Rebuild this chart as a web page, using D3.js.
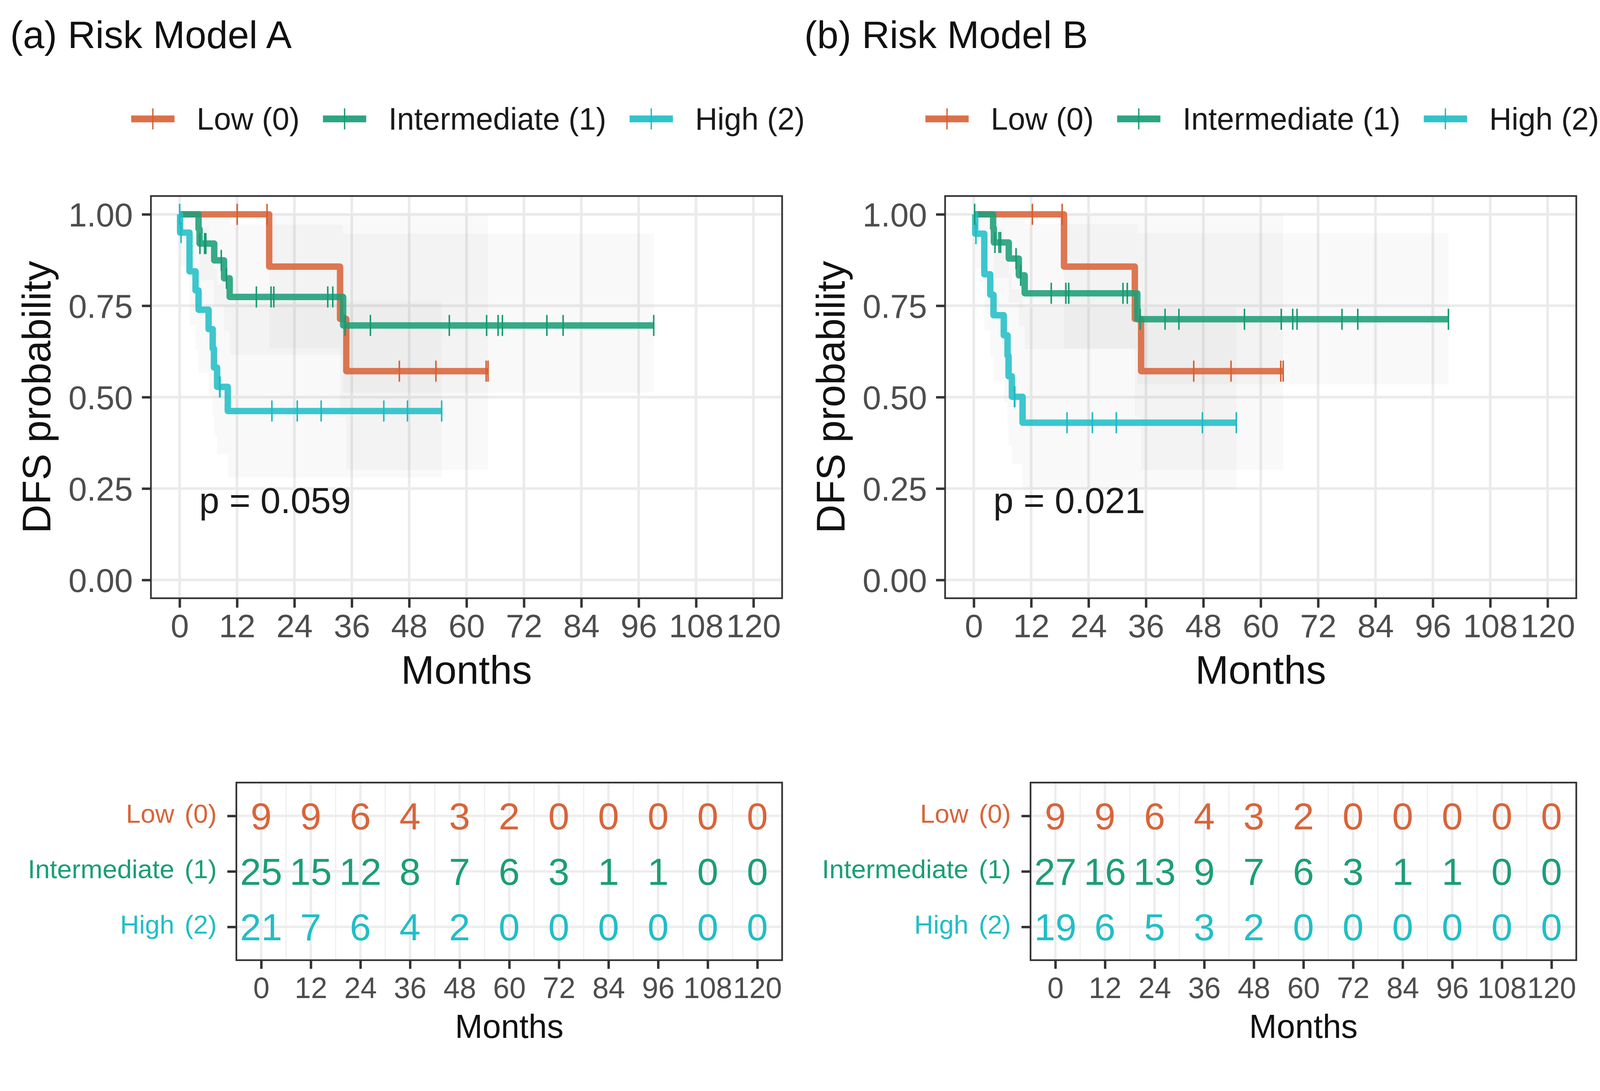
<!DOCTYPE html>
<html>
<head>
<meta charset="utf-8">
<script src="https://cdn.jsdelivr.net/npm/d3@7"></script>
<style>
html, body { margin: 0; padding: 0; background: #fff; overflow: hidden; }
#chart { display: block; width: 100vw; height: 100vh; }
svg text { font-family: "Liberation Sans", Arial, sans-serif; }
</style>
</head>
<body>
<svg id="chart" viewBox="0 0 4251 2794" preserveAspectRatio="xMidYMin meet"></svg>
<script>
"use strict";

//
// data
//

var strata = ["Low (0)", "Intermediate (1)", "High (2)"];
var time_ticks = [0, 12, 24, 36, 48, 60, 72, 84, 96, 108, 120];
var surv_ticks = [0, 0.25, 0.5, 0.75, 1];
var titles = ["(a) Risk Model A", "(b) Risk Model B"];
var pvalues = ["p = 0.059", "p = 0.021"];

// (a) Risk Model A
var a_low_time = [0, 18.73, 33.55, 34.86];
var a_low_surv = [1, 0.857, 0.714, 0.571];
var a_low_lower = [1, 0.634, 0.447, 0.301];
var a_low_upper = [1, 1, 1, 1];
var a_low_censor = [12.04, 18.28, 45.95, 53.6, 64.1, 64.5];
var a_low_end = 64.5;

var a_int_time = [0, 3.96, 4.17, 7.24, 9.29, 10.47, 34.2];
var a_int_surv = [1, 0.96, 0.92, 0.874, 0.825, 0.774, 0.696];
var a_int_lower = [1, 0.886, 0.820, 0.750, 0.683, 0.616, 0.512];
var a_int_upper = [1, 1, 1, 1, 0.998, 0.972, 0.947];
var a_int_censor = [4.25, 5.22, 5.48, 8.71, 9.8, 16.05, 19.12, 19.7, 30.98, 32.03,
    34.6, 39.9, 56.4, 64.2, 66.6, 67.5, 76.8, 80.2, 99.15];
var a_int_end = 99.15;

var a_high_time = [0, 0.1, 2.07, 3.33, 3.96, 6.06, 6.92, 7.18, 7.84, 10.07];
var a_high_surv = [1, 0.95, 0.844, 0.792, 0.739, 0.686, 0.633, 0.581, 0.528, 0.462];
var a_high_lower = [1, 0.859, 0.697, 0.629, 0.566, 0.506, 0.450, 0.396, 0.345, 0.280];
var a_high_upper = [1, 1, 1, 0.996, 0.965, 0.930, 0.891, 0.851, 0.808, 0.761];
var a_high_censor = [0, 0.3, 8.37, 8.45, 19.3, 24.6, 29.6, 42.7, 47.65, 54.8];
var a_high_end = 54.8;

var a_risk_low = [9, 9, 6, 4, 3, 2, 0, 0, 0, 0, 0];
var a_risk_int = [25, 15, 12, 8, 7, 6, 3, 1, 1, 0, 0];
var a_risk_high = [21, 7, 6, 4, 2, 0, 0, 0, 0, 0, 0];

// (b) Risk Model B
var b_low_time = [0, 18.86, 33.68, 34.99];
var b_low_surv = [1, 0.857, 0.714, 0.571];
var b_low_lower = [1, 0.634, 0.447, 0.301];
var b_low_upper = [1, 1, 1, 1];
var b_low_censor = [12.25, 18.47, 46.0, 53.8, 64.2, 64.7];
var b_low_end = 64.7;

var b_int_time = [0, 4.04, 4.2, 7.32, 9.42, 10.65, 34.2];
var b_int_surv = [1, 0.962, 0.923, 0.879, 0.833, 0.784, 0.713];
var b_int_lower = [1, 0.890, 0.826, 0.759, 0.695, 0.631, 0.535];
var b_int_upper = [1, 1, 1, 1, 0.998, 0.973, 0.948];
var b_int_censor = [0.18, 4.43, 5.27, 5.61, 8.84, 9.8, 16.2, 19.25, 19.86, 31.2, 32.1,
    34.8, 40.0, 42.9, 56.6, 64.3, 66.7, 67.6, 77.0, 80.3, 99.26];
var b_int_end = 99.26;

var b_high_time = [0, 0.3, 2.2, 3.44, 4.12, 6.27, 7.06, 7.27, 7.97, 10.2];
var b_high_surv = [1, 0.947, 0.836, 0.780, 0.724, 0.669, 0.613, 0.557, 0.501, 0.430];
var b_high_lower = [1, 0.852, 0.682, 0.611, 0.545, 0.484, 0.425, 0.369, 0.316, 0.248];
var b_high_upper = [1, 1, 1, 0.996, 0.962, 0.926, 0.885, 0.841, 0.794, 0.746];
var b_high_censor = [0.45, 8.5, 8.58, 19.5, 24.8, 29.8, 47.8, 54.9];
var b_high_end = 54.9;

var b_risk_low = [9, 9, 6, 4, 3, 2, 0, 0, 0, 0, 0];
var b_risk_int = [27, 16, 13, 9, 7, 6, 3, 1, 1, 0, 0];
var b_risk_high = [19, 6, 5, 3, 2, 0, 0, 0, 0, 0, 0];


function make_curve(time, surv, lower, upper, censor, end) {
    return {time: time, surv: surv, lower: lower, upper: upper, censor: censor, end: end};
}

var panels = [
    {
        title: titles[0], pval: pvalues[0], id: "a",
        curves: [
            make_curve(a_low_time, a_low_surv, a_low_lower, a_low_upper, a_low_censor, a_low_end),
            make_curve(a_int_time, a_int_surv, a_int_lower, a_int_upper, a_int_censor, a_int_end),
            make_curve(a_high_time, a_high_surv, a_high_lower, a_high_upper, a_high_censor, a_high_end)
        ],
        risk: [a_risk_low, a_risk_int, a_risk_high]
    },
    {
        title: titles[1], pval: pvalues[1], id: "b",
        curves: [
            make_curve(b_low_time, b_low_surv, b_low_lower, b_low_upper, b_low_censor, b_low_end),
            make_curve(b_int_time, b_int_surv, b_int_lower, b_int_upper, b_int_censor, b_int_end),
            make_curve(b_high_time, b_high_surv, b_high_lower, b_high_upper, b_high_censor, b_high_end)
        ],
        risk: [b_risk_low, b_risk_int, b_risk_high]
    }
];

//
// styles and layout
//

var colors = ["#D9643A", "#1B9E77", "#21BEC6"];
var mark_colors = ["#D55F30", "#17996F", "#1DBAC2"];
var grid_color = "#EBEBEB";
var dark = "#333333";
var tick_text = "#4D4D4D";
var panel_dx = 2110;

var plot_box = {left: 401, right: 2078, top: 521, bottom: 1590};
var table_box = {left: 628, right: 2078, top: 2080, bottom: 2552};

var svg = d3.select("#chart");


function draw_legend(g, cx, cy) {
    var key_w = 115, key_gap = 59, item_gap = 62;
    var items = g.append("g");
    var widths = [];
    var groups = [];
    strata.forEach(function (name, i) {
        var it = items.append("g");
        it.append("line")
            .attr("x1", 0).attr("x2", key_w)
            .attr("y1", cy).attr("y2", cy)
            .attr("stroke", colors[i])
            .attr("stroke-width", 18)
            .attr("opacity", 0.92);
        it.append("line")
            .attr("x1", key_w / 2).attr("x2", key_w / 2)
            .attr("y1", cy - 28).attr("y2", cy + 28)
            .attr("stroke", mark_colors[i])
            .attr("stroke-width", 3.5);
        var t = it.append("text")
            .attr("x", key_w + key_gap)
            .attr("y", cy + 29)
            .attr("font-size", 82)
            .attr("fill", "#1a1a1a")
            .text(name);
        widths.push(key_w + key_gap + t.node().getComputedTextLength());
        groups.push(it);
    });
    var total = d3.sum(widths) + item_gap * (widths.length - 1);
    var x0 = cx - total / 2;
    groups.forEach(function (it, i) {
        it.attr("transform", "translate(" + x0 + ",0)");
        x0 += widths[i] + item_gap;
    });
}


function step_points(c) {
    var pts = c.time.map(function (t, i) {
        return {t: t, s: c.surv[i], lo: c.lower[i], hi: c.upper[i]};
    });
    var last = pts[pts.length - 1];
    pts.push({t: c.end, s: last.s, lo: last.lo, hi: last.hi});
    return pts;
}


function surv_at(c, t) {
    var i = d3.bisectRight(c.time, t) - 1;
    return c.surv[Math.max(i, 0)];
}


function draw_panel(panel, dx) {
    var g = svg.append("g").attr("transform", "translate(" + dx + ",0)");

    // title
    g.append("text")
        .attr("x", 27)
        .attr("y", 128)
        .attr("font-size", 102)
        .attr("fill", "#111")
        .text(panel.title);

    draw_legend(g, (plot_box.left + plot_box.right) / 2 + 4, 316);

    //
    // survival curves
    //

    var x = d3.scaleLinear().domain([-6, 126]).range([plot_box.left, plot_box.right]);
    var y = d3.scaleLinear().domain([-0.05, 1.05]).range([plot_box.bottom, plot_box.top]);

    var clip_id = "clip-" + panel.id;
    g.append("clipPath").attr("id", clip_id)
        .append("rect")
        .attr("x", plot_box.left).attr("y", plot_box.top)
        .attr("width", plot_box.right - plot_box.left)
        .attr("height", plot_box.bottom - plot_box.top);

    var plot = g.append("g").attr("clip-path", "url(#" + clip_id + ")");

    // grid
    plot.selectAll("line.vgrid")
        .data(time_ticks)
        .enter().append("line")
        .attr("x1", function (d) { return x(d); })
        .attr("x2", function (d) { return x(d); })
        .attr("y1", plot_box.top).attr("y2", plot_box.bottom)
        .attr("stroke", grid_color).attr("stroke-width", 7);
    plot.selectAll("line.hgrid")
        .data(surv_ticks)
        .enter().append("line")
        .attr("x1", plot_box.left).attr("x2", plot_box.right)
        .attr("y1", function (d) { return y(d); })
        .attr("y2", function (d) { return y(d); })
        .attr("stroke", grid_color).attr("stroke-width", 7);

    // confidence bands
    var band = d3.area()
        .curve(d3.curveStepAfter)
        .x(function (d) { return x(d.t); })
        .y0(function (d) { return y(d.lo); })
        .y1(function (d) { return y(d.hi); });
    plot.selectAll("path.band")
        .data(panel.curves)
        .enter().append("path")
        .attr("d", function (c) { return band(step_points(c)); })
        .attr("fill", "#999999")
        .attr("fill-opacity", 0.06);

    // steps
    var step = d3.line()
        .curve(d3.curveStepAfter)
        .x(function (d) { return x(d.t); })
        .y(function (d) { return y(d.s); });
    plot.selectAll("path.km")
        .data(panel.curves)
        .enter().append("path")
        .attr("d", function (c) { return step(step_points(c)); })
        .attr("fill", "none")
        .attr("stroke", function (c, i) { return colors[i]; })
        .attr("stroke-width", 17)
        .attr("stroke-linejoin", "round")
        .attr("opacity", 0.88);

    // censor marks
    var half = 28;
    panel.curves.forEach(function (c, i) {
        var marks = plot.append("g")
            .attr("stroke", mark_colors[i])
            .attr("stroke-width", 4);
        marks.selectAll("line")
            .data(c.censor)
            .enter().append("line")
            .attr("x1", function (t) { return x(t); })
            .attr("x2", function (t) { return x(t); })
            .attr("y1", function (t) { return y(surv_at(c, t)) - half; })
            .attr("y2", function (t) { return y(surv_at(c, t)) + half; });
    });

    // p value
    g.append("text")
        .attr("x", x(4.1))
        .attr("y", y(0.2) + 17)
        .attr("font-size", 96)
        .attr("fill", "#1a1a1a")
        .text(panel.pval);

    // border
    g.append("rect")
        .attr("x", plot_box.left).attr("y", plot_box.top)
        .attr("width", plot_box.right - plot_box.left)
        .attr("height", plot_box.bottom - plot_box.top)
        .attr("fill", "none").attr("stroke", dark).attr("stroke-width", 4.5);

    // axes
    var xaxis = g.append("g")
        .attr("transform", "translate(0," + plot_box.bottom + ")")
        .call(d3.axisBottom(x).tickValues(time_ticks).tickSize(25).tickPadding(17));
    var yaxis = g.append("g")
        .attr("transform", "translate(" + plot_box.left + ",0)")
        .call(d3.axisLeft(y).tickValues(surv_ticks).tickSize(24).tickPadding(24)
            .tickFormat(d3.format(".2f")));
    [xaxis, yaxis].forEach(function (ax) {
        ax.select(".domain").remove();
        ax.selectAll(".tick line").attr("stroke", dark).attr("stroke-width", 6.5);
        ax.selectAll(".tick text")
            .attr("fill", tick_text)
            .attr("font-family", "Liberation Sans, Arial, sans-serif");
    });
    xaxis.selectAll(".tick text").attr("font-size", 87);
    yaxis.selectAll(".tick text").attr("font-size", 88).attr("dy", "0.36em");

    g.append("text")
        .attr("x", (plot_box.left + plot_box.right) / 2)
        .attr("y", 1817)
        .attr("text-anchor", "middle")
        .attr("font-size", 106)
        .attr("fill", "#111")
        .text("Months");

    g.append("text")
        .attr("transform", "translate(134," + (plot_box.top + plot_box.bottom) / 2 + ") rotate(-90)")
        .attr("text-anchor", "middle")
        .attr("font-size", 106)
        .attr("fill", "#111")
        .text("DFS probability");

    //
    // number at risk table
    //

    var tx = d3.scaleLinear().domain([-6, 126]).range([table_box.left, table_box.right]);
    var ty = d3.scalePoint().domain(strata).range([table_box.top, table_box.bottom]).padding(0.6);

    var table = g.append("g");
    var minor = time_ticks.slice(1).map(function (d, i) { return (d + time_ticks[i]) / 2; });

    table.selectAll("line.minor")
        .data(minor)
        .enter().append("line")
        .attr("x1", function (d) { return tx(d); })
        .attr("x2", function (d) { return tx(d); })
        .attr("y1", table_box.top).attr("y2", table_box.bottom)
        .attr("stroke", "#F0F0F0").attr("stroke-width", 3.3);
    table.selectAll("line.major")
        .data(time_ticks)
        .enter().append("line")
        .attr("x1", function (d) { return tx(d); })
        .attr("x2", function (d) { return tx(d); })
        .attr("y1", table_box.top).attr("y2", table_box.bottom)
        .attr("stroke", "#EDEDED").attr("stroke-width", 6.5);
    table.selectAll("line.row")
        .data(strata)
        .enter().append("line")
        .attr("x1", table_box.left).attr("x2", table_box.right)
        .attr("y1", function (d) { return ty(d); })
        .attr("y2", function (d) { return ty(d); })
        .attr("stroke", "#EDEDED").attr("stroke-width", 6.5);

    panel.risk.forEach(function (row, i) {
        table.selectAll("text.n" + i)
            .data(row)
            .enter().append("text")
            .attr("x", function (d, j) { return tx(time_ticks[j]); })
            .attr("y", ty(strata[i]) + 36)
            .attr("text-anchor", "middle")
            .attr("font-size", 101)
            .attr("fill", colors[i])
            .text(function (d) { return d; });
    });

    table.append("rect")
        .attr("x", table_box.left).attr("y", table_box.top)
        .attr("width", table_box.right - table_box.left)
        .attr("height", table_box.bottom - table_box.top)
        .attr("fill", "none").attr("stroke", dark).attr("stroke-width", 4.5);

    var txaxis = table.append("g")
        .attr("transform", "translate(0," + table_box.bottom + ")")
        .call(d3.axisBottom(tx).tickValues(time_ticks).tickSize(23).tickPadding(22));
    var tyaxis = table.append("g")
        .attr("transform", "translate(" + table_box.left + ",0)")
        .call(d3.axisLeft(ty).tickSize(24).tickPadding(28));
    [txaxis, tyaxis].forEach(function (ax) {
        ax.select(".domain").remove();
        ax.selectAll(".tick line").attr("stroke", dark).attr("stroke-width", 6.5);
        ax.selectAll(".tick text").attr("font-family", "Liberation Sans, Arial, sans-serif");
    });
    txaxis.selectAll(".tick text").attr("font-size", 78).attr("fill", tick_text);
    tyaxis.selectAll(".tick text")
        .attr("font-size", 70)
        .attr("dy", "0.25em")
        .attr("word-spacing", 8)
        .attr("fill", function (d, i) { return colors[i]; });

    table.append("text")
        .attr("x", (table_box.left + table_box.right) / 2)
        .attr("y", 2759)
        .attr("text-anchor", "middle")
        .attr("font-size", 88)
        .attr("fill", "#111")
        .text("Months");
}


panels.forEach(function (p, i) {
    draw_panel(p, i * panel_dx);
});
</script>
</body>
</html>
